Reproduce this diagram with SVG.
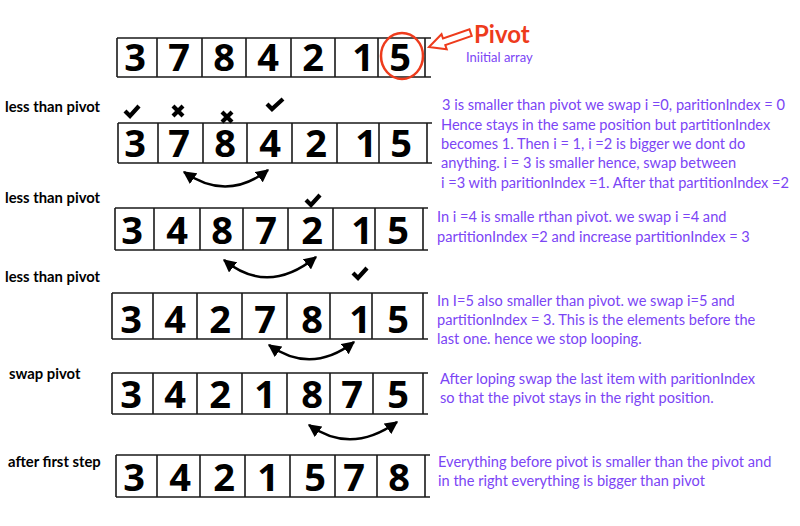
<svg xmlns="http://www.w3.org/2000/svg" width="800" height="526" viewBox="0 0 800 526">
<defs>
<style>
.grid{fill:none;stroke:#1a1a1a;stroke-width:1.6}
.num{font-family:"Open Sans","Liberation Sans",sans-serif;font-weight:700;font-size:38px;fill:#000;text-anchor:middle}
.lbl{font-family:Lato,"Liberation Sans",sans-serif;font-weight:700;font-size:14.8px;fill:#000}
.note{font-family:Lato,"Liberation Sans",sans-serif;font-size:14.6px;fill:#7b45f5}
.mark{fill:none;stroke:#000;stroke-width:4.2;stroke-linecap:butt;stroke-linejoin:miter}
.swap{fill:none;stroke:#000;stroke-width:2.5;marker-start:url(#ah);marker-end:url(#ah)}
</style>
<marker id="ah" viewBox="0 0 10 10" refX="9" refY="5" markerWidth="13" markerHeight="13" markerUnits="userSpaceOnUse" orient="auto-start-reverse">
<path d="M0,0 L10,5 L0,10 z" fill="#000"/>
</marker>
</defs>

<g id="row1">
<path class="grid" d="M117,38 H431 M117,77 H431 M117,38 V77 M157,38 V77 M202,38 V77 M246,38 V77 M291,38 V77 M335,38 V77 M378,38 V77 M425,38 V77"/>
<text class="num" y="71"><tspan x="135">3</tspan><tspan x="179">7</tspan><tspan x="224">8</tspan><tspan x="268">4</tspan><tspan x="313">2</tspan><tspan x="363">1</tspan><tspan x="400">5</tspan></text>
<ellipse cx="402" cy="56" rx="21" ry="23" fill="none" stroke="#ee3b1c" stroke-width="2.5"/>
</g>

<g id="pivot-label">
<polygon points="0,0 16,-8 16,-3.5 44,-3.5 44,3.5 16,3.5 16,8" transform="translate(429,47) rotate(-19)" fill="#fff" stroke="#ee3b1c" stroke-width="2"/>
<text x="474" y="43" font-family="Lato,'Liberation Sans',sans-serif" font-weight="700" font-size="24" fill="#ee3b1c">Pivot</text>
<text x="466" y="62" font-family="Lato,'Liberation Sans',sans-serif" font-size="13" fill="#7b45f5">Iniitial array</text>
</g>

<g id="row2">
<text class="lbl" x="5" y="112">less than pivot</text>
<path class="grid" d="M118,123 H432 M118,163 H432 M118,123 V163 M158,123 V163 M203,123 V163 M247,123 V163 M292,123 V163 M337,123 V163 M379,123 V163 M427,123 V163"/>
<text class="num" y="157"><tspan x="135">3</tspan><tspan x="179">7</tspan><tspan x="225">8</tspan><tspan x="270">4</tspan><tspan x="316">2</tspan><tspan x="366">1</tspan><tspan x="401">5</tspan></text>
<path class="mark" d="M125,111 L130,116 L139,106"/>
<path class="mark" d="M173,106 L183,116 M183,106 L173,116"/>
<path class="mark" d="M222,112 L232,122 M232,112 L222,122"/>
<path class="mark" d="M267,104 L272,109 L283,99"/>
</g>

<g id="note1" class="note">
<text x="442" y="110">3 is smaller than pivot we swap i =0, paritionIndex = 0</text>
<text x="441" y="130">Hence stays in the same position but partitionIndex</text>
<text x="441" y="149">becomes 1. Then i = 1, i =2 is bigger we dont do</text>
<text x="441" y="168">anything. i = 3 is smaller hence, swap between</text>
<text x="441" y="188">i =3 with paritionIndex =1. After that partitionIndex =2</text>
</g>

<g id="row3">
<text class="lbl" x="5" y="203">less than pivot</text>
<path class="grid" d="M115,208 H428 M115,250 H428 M115,208 V250 M154,208 V250 M200,208 V250 M243,208 V250 M288,208 V250 M333,208 V250 M375,208 V250 M423,208 V250"/>
<text class="num" y="244"><tspan x="132">3</tspan><tspan x="177">4</tspan><tspan x="222">8</tspan><tspan x="266">7</tspan><tspan x="312">2</tspan><tspan x="362">1</tspan><tspan x="398">5</tspan></text>
<path class="mark" d="M306,200 L311,205 L320,195"/>
</g>

<g id="note2" class="note">
<text x="437" y="222">In i =4 is smalle rthan pivot. we swap i =4 and</text>
<text x="437" y="242">partitionIndex =2 and increase partitionIndex = 3</text>
</g>

<g id="row4">
<text class="lbl" x="5" y="282">less than pivot</text>
<path class="mark" d="M353,273 L358,278 L367,268"/>
<path class="grid" d="M112,293 H428 M112,339 H428 M112,293 V339 M153,293 V339 M197,293 V339 M242,293 V339 M287,293 V339 M330,293 V339 M372,293 V339 M423,293 V339"/>
<text class="num" y="333"><tspan x="131">3</tspan><tspan x="175">4</tspan><tspan x="220">2</tspan><tspan x="265">7</tspan><tspan x="312">8</tspan><tspan x="360">1</tspan><tspan x="398">5</tspan></text>
</g>

<g id="note3" class="note">
<text x="437" y="306">In I=5 also smaller than pivot. we swap i=5 and</text>
<text x="437" y="325">partitionIndex = 3. This is the elements before the</text>
<text x="437" y="344">last one. hence we stop looping.</text>
</g>

<g id="row5">
<text class="lbl" x="9" y="379">swap pivot</text>
<path class="grid" d="M112,373 H428 M112,414 H428 M112,373 V414 M153,373 V414 M197,373 V414 M242,373 V414 M287,373 V414 M330,373 V414 M373,373 V414 M423,373 V414"/>
<text class="num" y="408"><tspan x="131">3</tspan><tspan x="175">4</tspan><tspan x="220">2</tspan><tspan x="265">1</tspan><tspan x="312">8</tspan><tspan x="352">7</tspan><tspan x="398">5</tspan></text>
</g>

<g id="note4" class="note">
<text x="440" y="384">After loping swap the last item with paritionIndex</text>
<text x="440" y="403">so that the pivot stays in the right position.</text>
</g>

<g id="row6">
<text class="lbl" x="8" y="467">after first step</text>
<path class="grid" d="M116,455 H430 M116,497 H430 M116,455 V497 M157,455 V497 M200,455 V497 M245,455 V497 M290,455 V497 M335,455 V497 M377,455 V497 M425,455 V497"/>
<text class="num" y="491"><tspan x="134">3</tspan><tspan x="180">4</tspan><tspan x="224">2</tspan><tspan x="268">1</tspan><tspan x="315">5</tspan><tspan x="354">7</tspan><tspan x="399">8</tspan></text>
</g>

<g id="note5" class="note">
<text x="438" y="467">Everything before pivot is smaller than the pivot and</text>
<text x="438" y="486">in the right everything is bigger than pivot</text>
</g>

<g id="connectors">
<path class="swap" d="M184,172 Q227,202 268,170"/>
<path class="swap" d="M224,260 Q268,296 316,257"/>
<path class="swap" d="M269,345 Q311,375 354,342"/>
<path class="swap" d="M309,425 Q351,455 397,422"/>
</g>
</svg>
